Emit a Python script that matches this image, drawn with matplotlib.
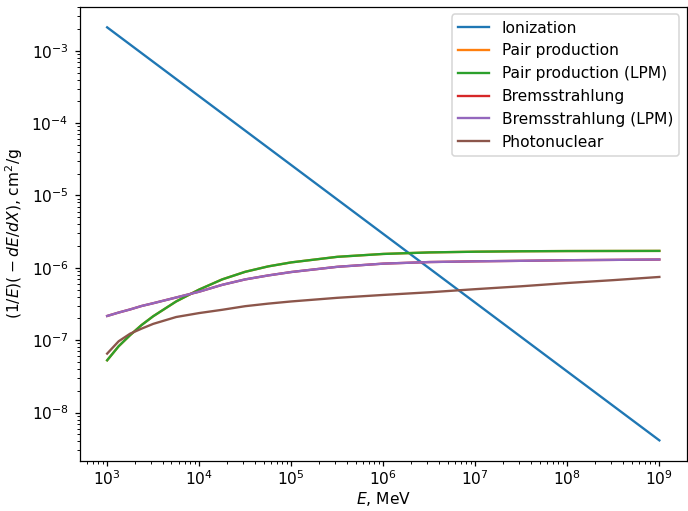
import matplotlib
matplotlib.use("Agg")
import matplotlib.pyplot as plt
import numpy as np

## -------------------- Data
energy = np.array([1e3, 1.334e3, 1.778e3, 2.371e3, 3.162e3, 5.623e3, 1e4, 1.778e4, 3.162e4,
                   5.623e4, 1e5, 3.162e5, 1e6, 3.162e6, 1e7, 3.162e7, 1e8, 3.162e8, 1e9])

energy_ion = np.array([1e3, 1e4, 1e5, 1e6, 1e7, 1e8, 1e9])
ionization = np.array([2.11e-3, 2.355e-4, 2.636e-5, 2.944e-6, 3.296e-7, 3.68e-8, 4.12e-9])

pair_lpm = np.array([5.27e-8, 8.24e-8, 1.175e-7, 1.622e-7, 2.14e-7, 3.43e-7, 5.01e-7, 6.92e-7,
                     8.81e-7, 1.047e-6, 1.189e-6, 1.419e-6, 1.556e-6, 1.633e-6, 1.671e-6,
                     1.694e-6, 1.706e-6, 1.710e-6, 1.714e-6])
pair = pair_lpm.copy()  # hidden under the LPM curve in the reference

brems_lpm = np.array([2.16e-7, 2.41e-7, 2.66e-7, 2.97e-7, 3.24e-7, 3.89e-7, 4.68e-7, 5.82e-7,
                      6.92e-7, 7.85e-7, 8.75e-7, 1.033e-6, 1.143e-6, 1.202e-6, 1.230e-6,
                      1.250e-6, 1.274e-6, 1.288e-6, 1.303e-6])
brems = brems_lpm.copy()  # same, hidden under the LPM curve

photonuclear = np.array([6.52e-8, 9.66e-8, 1.23e-7, 1.445e-7, 1.679e-7, 2.09e-7, 2.37e-7, 2.63e-7,
                         2.95e-7, 3.20e-7, 3.43e-7, 3.85e-7, 4.22e-7, 4.59e-7, 5.07e-7,
                         5.56e-7, 6.17e-7, 6.76e-7, 7.48e-7])

## -------------------- Plot
dpi = 112
fig = plt.figure(figsize=(688 / dpi, 511 / dpi), dpi=dpi)
ax = fig.add_axes([0.1156, 0.0978, 0.8829, 0.8891])

ax.plot(energy_ion, ionization, label='Ionization')
ax.plot(energy, pair, label='Pair production')
ax.plot(energy, pair_lpm, label='Pair production (LPM)')
ax.plot(energy, brems, label='Bremsstrahlung')
ax.plot(energy, brems_lpm, label='Bremsstrahlung (LPM)')
ax.plot(energy, photonuclear, label='Photonuclear')

ax.set_xscale('log')
ax.set_yscale('log')
ax.tick_params(axis='x', which='major', pad=1.5)
ax.set_xlabel(r'$E$, MeV', labelpad=1.5)
ax.set_ylabel(r'$(1/E)(\:-\:dE/dX)$, cm$^2$/g')
ax.legend(loc='upper right')

fig.savefig('out.png', dpi=dpi)
